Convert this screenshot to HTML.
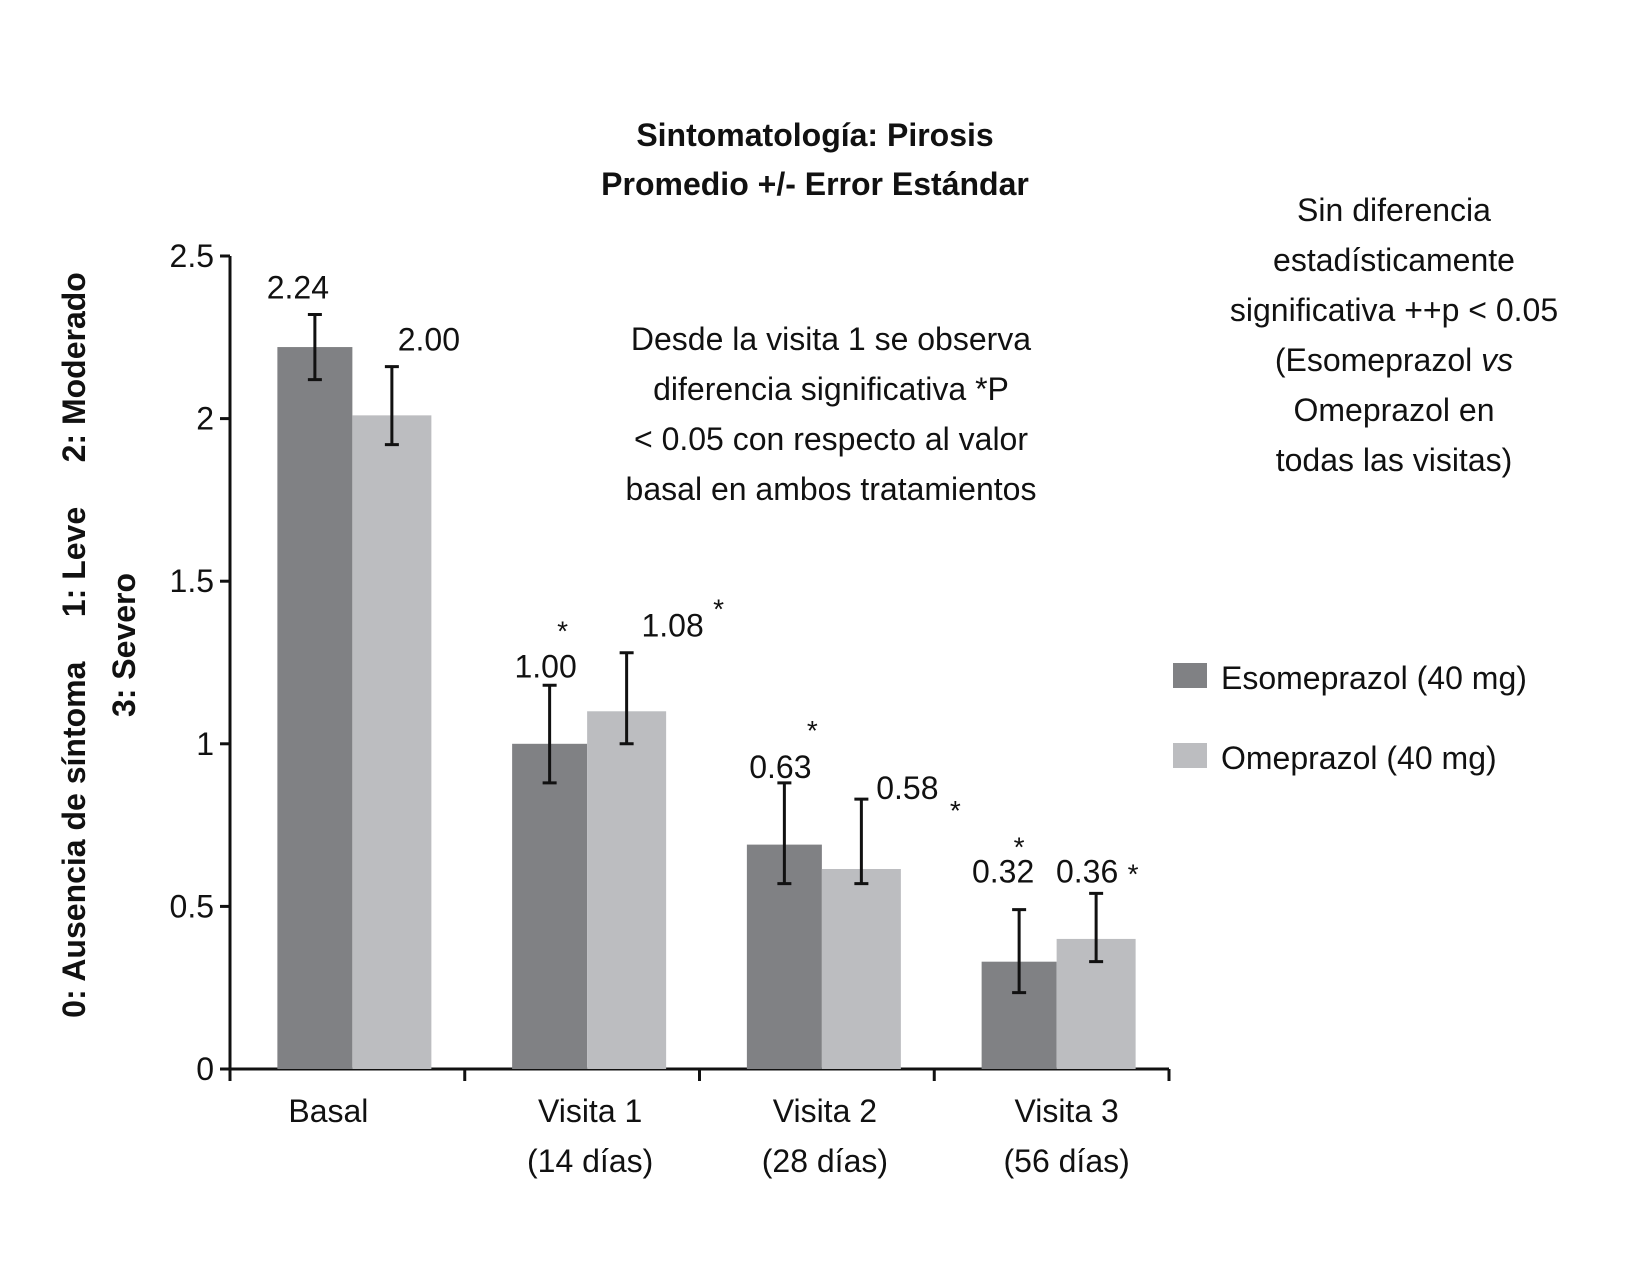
<!DOCTYPE html>
<html><head><meta charset="utf-8"><style>
html,body{margin:0;padding:0;background:#fff;}
svg{display:block;font-family:"Liberation Sans",Arial,sans-serif;}
</style></head><body>
<svg id="chart" width="1641" height="1262" viewBox="0 0 1641 1262" xmlns="http://www.w3.org/2000/svg">
<g font-weight="bold" font-size="32" text-anchor="middle" fill="#111">
<text x="815" y="146">Sintomatología: Pirosis</text>
<text x="815" y="195">Promedio +/- Error Estándar</text>
</g>
<g font-weight="bold" font-size="32" fill="#111" text-anchor="middle">
<text transform="translate(85,645) rotate(-90)" xml:space="preserve">0: Ausencia de síntoma     1: Leve     2: Moderado</text>
<text transform="translate(135,645) rotate(-90)">3: Severo</text>
</g>
<g font-size="32" fill="#111" text-anchor="middle">
<text x="831" y="350">Desde la visita 1 se observa</text>
<text x="831" y="400">diferencia significativa *P</text>
<text x="831" y="450">&lt; 0.05 con respecto al valor</text>
<text x="831" y="500">basal en ambos tratamientos</text>
</g>
<g font-size="32" fill="#111" text-anchor="middle">
<text x="1394" y="221">Sin diferencia</text>
<text x="1394" y="271">estadísticamente</text>
<text x="1394" y="321">significativa ++p &lt; 0.05</text>
<text x="1394" y="371">(Esomeprazol <tspan font-style="italic">vs</tspan></text>
<text x="1394" y="421">Omeprazol en</text>
<text x="1394" y="471">todas las visitas)</text>
</g>
<g font-size="32" fill="#111">
<g>
<rect x="1173" y="663" width="34" height="25" fill="#808184"/>
<text x="1221" y="689">Esomeprazol (40 mg)</text></g>
<g>
<rect x="1173" y="743" width="34" height="25" fill="#bcbdc0"/>
<text x="1221" y="769">Omeprazol (40 mg)</text></g>
</g>
<g id="plot"></g>
</svg>
<script>
const categories = ["Basal","Visita 1","Visita 2","Visita 3"];
const subLabels = ["","(14 días)","(28 días)","(56 días)"];
const esoValues = [2.22,1.00,0.69,0.33];
const omeValues = [2.01,1.10,0.615,0.40];
const esoErrTop = [2.32,1.18,0.88,0.49];
const esoErrBot = [2.12,0.88,0.57,0.235];
const omeErrTop = [2.16,1.28,0.83,0.54];
const omeErrBot = [1.92,1.00,0.57,0.33];
const esoLabels = ["2.24","1.00","0.63","0.32"];
const omeLabels = ["2.00","1.08","0.58","0.36"];
const esoStar = [false,true,true,true];
const omeStar = [false,true,true,true];
const yTicks = [0,0.5,1,1.5,2,2.5];
const yTickLabels = ["0","0.5","1","1.5","2","2.5"];

// label placement offsets (style, not data)
const catDx=[-27,0,0,7];
const esoLab=[[-17,-16],[-4,-8],[-4,-5],[-16,-27]];
const omeLab=[[37,-16],[46,-16],[46,0],[-9,-11]];
const esoStarOff=[[0,0],[17,-41],[32,-42],[16,-30]];
const omeStarOff=[[0,0],[46,-22],[48,17],[46,-3]];

const NS="http://www.w3.org/2000/svg";
const g=document.getElementById('plot');
const x0=230,x1=1169,y0=1069,yTop=256,yMax=2.5;
const y=v=>y0-(v/yMax)*(y0-yTop);
const groupW=(x1-x0)/categories.length;
const barW=75;
function el(t,a,p){const e=document.createElementNS(NS,t);for(const k in a)e.setAttribute(k,a[k]);(p||g).appendChild(e);return e;}

const ya=el('line',{x1:x0,y1:yTop,x2:x0,y2:y0+1,stroke:'#111','stroke-width':3});


const xa=el('line',{x1:x0-2,y1:y0,x2:x1,y2:y0,stroke:'#111','stroke-width':3});


yTicks.forEach((t,i)=>{
  const tk=el('line',{x1:x0-10,y1:y(t),x2:x0,y2:y(t),stroke:'#111','stroke-width':3});
  
  
  const tl=el('text',{x:x0-16,y:y(t)+11,'text-anchor':'end','font-size':32,fill:'#111'});
  tl.textContent=yTickLabels[i];
  
  
});
for(let i=0;i<=categories.length;i++){
  const xx=x0+i*groupW;
  const tk=el('line',{x1:xx,y1:y0,x2:xx,y2:y0+12,stroke:'#111','stroke-width':3});
  
  
}
categories.forEach((c,i)=>{
  const cx=x0+(i+0.5)*groupW+8+catDx[i];
  const t=el('text',{x:cx,y:1122,'text-anchor':'middle','font-size':32,fill:'#111'});
  t.textContent=c;
  
  
  if(subLabels[i]){
    const s=el('text',{x:cx,y:1172,'text-anchor':'middle','font-size':32,fill:'#111'});
    s.textContent=subLabels[i];
    
    
  }
  const gc=x0+(i+0.5)*groupW+5;
  const series=[
    {v:esoValues[i],t:esoErrTop[i],b:esoErrBot[i],lab:esoLabels[i],star:esoStar[i],x:gc-barW,col:'#808184',name:'esomeprazol',lo:esoLab[i],so:esoStarOff[i]},
    {v:omeValues[i],t:omeErrTop[i],b:omeErrBot[i],lab:omeLabels[i],star:omeStar[i],x:gc,col:'#bcbdc0',name:'omeprazol',lo:omeLab[i],so:omeStarOff[i]}
  ];
  series.forEach((s,k)=>{
    const w=k==0?barW:barW+4;
    const r=el('rect',{x:s.x,y:y(s.v),width:w,height:y0-y(s.v),fill:s.col});
    
    
    const ex=s.x+w/2;
    const eb=el('path',{d:`M${ex},${y(s.t)}V${y(s.b)}M${ex-7},${y(s.t)}H${ex+7}M${ex-7},${y(s.b)}H${ex+7}`,stroke:'#111','stroke-width':3,fill:'none'});
    
    
    const lx=ex+s.lo[0], ly=y(s.t)+s.lo[1];
    const lt=el('text',{x:lx,y:ly,'text-anchor':'middle','font-size':32,fill:'#111'});
    lt.textContent=s.lab;
    
    
    if(s.star){
      const st=el('text',{x:lx+s.so[0],y:ly+s.so[1]+4,'text-anchor':'middle','font-size':28,fill:'#111'});
      st.textContent='*';
      
      
    }
  });
});
</script>
</body></html>
